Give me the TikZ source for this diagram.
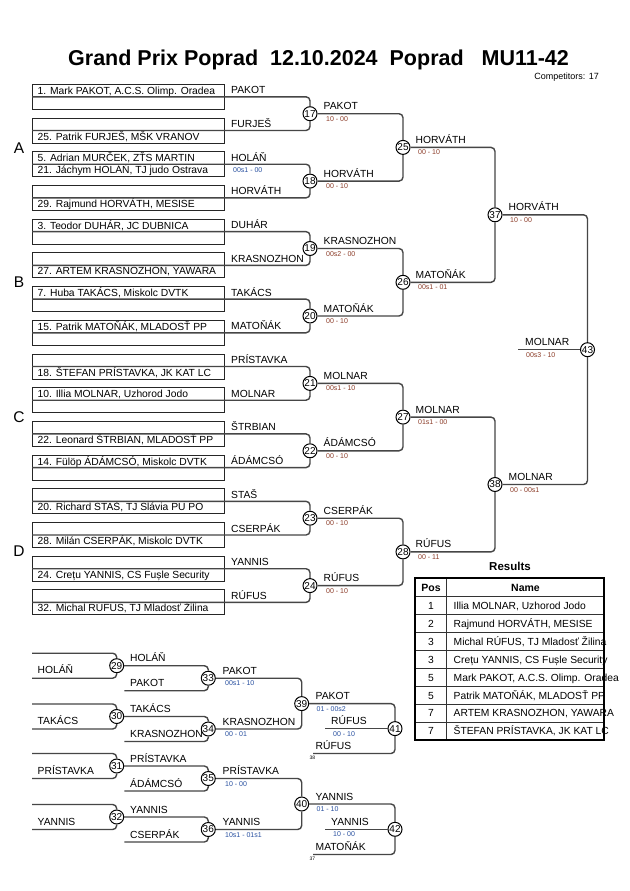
\documentclass[tikz,border=0pt]{standalone}
\usepackage{fontspec}
\setmainfont{Liberation Sans}
\newcommand\myfs[1]{\fontsize{#1bp}{#1bp}\selectfont}
\definecolor{scred}{RGB}{140,60,40}
\definecolor{scblue}{RGB}{40,80,160}
\definecolor{lnc}{RGB}{70,70,70}
\begin{document}
\begin{tikzpicture}[x=1bp,y=-1bp,
  ebox/.style={draw=black!85, line width=0.9bp, minimum width=192bp, minimum height=25bp, inner sep=0pt, outer sep=0pt, anchor=north west},
  conn/.style={draw=lnc, line width=1.4bp, rounded corners=4bp},
  mc/.style={circle, draw=black, line width=1bp, fill=white, minimum size=14bp, inner sep=0pt, font=\myfs{10}},
  txt/.style={anchor=base west, inner sep=0pt, font=\myfs{10.3}},
  scr/.style={anchor=base west, inner sep=0pt, font=\myfs{7}, text=scred},
  scb/.style={anchor=base west, inner sep=0pt, font=\myfs{7}, text=scblue},
  tiny/.style={anchor=base west, inner sep=0pt, font=\myfs{5}},
  grp/.style={anchor=base, inner sep=0pt, font=\myfs{15.5}},
  tline/.style={draw=black!80, line width=1.1bp},
  tcell/.style={inner sep=0pt, font=\myfs{10.3}},
]
\useasboundingbox[fill=white] (0,0) rectangle (630,891);

% title
\node[anchor=base west, inner sep=0pt, font=\myfs{21.5}\bfseries] (title) at (68,65) {Grand Prix Poprad\ \ 12.10.2024\ \ Poprad\ \ \ MU11-42};
\node[anchor=base east, inner sep=0pt, font=\myfs{9}] (comp) at (599,79) {Competitors: 17};

% group letters
\node[grp] (gA) at (19,153.4) {A};
\node[grp] (gB) at (19,287.8) {B};
\node[grp] (gC) at (19,422.2) {C};
\node[grp] (gD) at (19,556.6) {D};

% circles (main)
\node[mc] (m17) at (310,113.7) {17};
\node[mc] (m18) at (310,181.1) {18};
\node[mc] (m19) at (310,248.5) {19};
\node[mc] (m20) at (310,316.0) {20};
\node[mc] (m21) at (310,383.4) {21};
\node[mc] (m22) at (310,450.8) {22};
\node[mc] (m23) at (310,518.2) {23};
\node[mc] (m24) at (310,585.6) {24};
\node[mc] (m25) at (403,147.4) {25};
\node[mc] (m26) at (403,282.3) {26};
\node[mc] (m27) at (403,417.1) {27};
\node[mc] (m28) at (403,551.9) {28};
\node[mc] (m37) at (495,214.8) {37};
\node[mc] (m38) at (495,484.5) {38};
\node[mc] (m43) at (587.5,349.7) {43};

% entry boxes
\node[ebox] (e1) at (32,84.3) {};
\node[ebox] (e2) at (32,118.0) {};
\node[ebox] (e3) at (32,151.7) {};
\node[ebox] (e4) at (32,185.4) {};
\node[ebox] (e5) at (32,219.1) {};
\node[ebox] (e6) at (32,252.9) {};
\node[ebox] (e7) at (32,286.6) {};
\node[ebox] (e8) at (32,320.3) {};
\node[ebox] (e9) at (32,354.0) {};
\node[ebox] (e10) at (32,387.7) {};
\node[ebox] (e11) at (32,421.4) {};
\node[ebox] (e12) at (32,455.1) {};
\node[ebox] (e13) at (32,488.8) {};
\node[ebox] (e14) at (32,522.5) {};
\node[ebox] (e15) at (32,556.2) {};
\node[ebox] (e16) at (32,589.9) {};

% entry texts
\node[txt] (t1) at (37.5,94.3) {1. Mark PAKOT, A.C.S. Olimp. Oradea};
\node[txt] (t2) at (37.5,140.0) {25. Patrik FURJEŠ, MŠK VRANOV};
\node[txt] (t3a) at (37.5,161.7) {5. Adrian MURČEK, ZŤS MARTIN};
\node[txt] (t3b) at (37.5,173.7) {21. Jáchym HOLÁŇ, TJ judo Ostrava};
\node[txt] (t4) at (37.5,207.4) {29. Rajmund HORVÁTH, MESISE};
\node[txt] (t5) at (37.5,229.1) {3. Teodor DUHÁR, JC DUBNICA};
\node[txt] (t6) at (37.5,274.9) {27. ARTEM KRASNOZHON, YAWARA};
\node[txt] (t7) at (37.5,296.6) {7. Huba TAKÁCS, Miskolc DVTK};
\node[txt] (t8) at (37.5,330.3) {15. Patrik MATOŇÁK, MLADOSŤ PP};
\node[txt] (t9) at (37.5,376.0) {18. ŠTEFAN PRÍSTAVKA, JK KAT LC};
\node[txt] (t10) at (37.5,397.7) {10. Illia MOLNAR, Uzhorod Jodo};
\node[txt] (t11) at (37.5,443.4) {22. Leonard ŠTRBIAN, MLADOSŤ PP};
\node[txt] (t12) at (37.5,465.1) {14. Fülöp ÁDÁMCSÓ, Miskolc DVTK};
\node[txt] (t13) at (37.5,510.8) {20. Richard STAŠ, TJ Slávia PU PO};
\node[txt] (t14) at (37.5,544.5) {28. Milán CSERPÁK, Miskolc DVTK};
\node[txt] (t15) at (37.5,578.2) {24. Crețu YANNIS, CS Fușle Security};
\node[txt] (t16) at (37.5,611.9) {32. Michal RÚFUS, TJ Mladosť Žilina};

% entry labels
\node[txt] (l1) at (231,93.8) {PAKOT};
\node[txt] (l2) at (231,127.5) {FURJEŠ};
\node[txt] (l3) at (231,161.2) {HOLÁŇ};
\node[scb] (s3) at (233,172.7) {00s1 - 00};
\node[txt] (l4) at (231,194.9) {HORVÁTH};
\node[txt] (l5) at (231,228.6) {DUHÁR};
\node[txt] (l6) at (231,262.4) {KRASNOZHON};
\node[txt] (l7) at (231,296.1) {TAKÁCS};
\node[txt] (l8) at (231,329.8) {MATOŇÁK};
\node[txt] (l9) at (231,363.5) {PRÍSTAVKA};
\node[txt] (l10) at (231,397.2) {MOLNAR};
\node[txt] (l11) at (231,430.9) {ŠTRBIAN};
\node[txt] (l12) at (231,464.6) {ÁDÁMCSÓ};
\node[txt] (l13) at (231,498.3) {STAŠ};
\node[txt] (l14) at (231,532.0) {CSERPÁK};
\node[txt] (l15) at (231,565.7) {YANNIS};
\node[txt] (l16) at (231,599.4) {RÚFUS};

% round 1 connectors
\draw[conn] (e1.west) -| (m17);  \draw[conn] (e2.west) -| (m17);
\draw[conn] (e3.west) -| (m18);  \draw[conn] (e4.west) -| (m18);
\draw[conn] (e5.west) -| (m19);  \draw[conn] (e6.west) -| (m19);
\draw[conn] (e7.west) -| (m20);  \draw[conn] (e8.west) -| (m20);
\draw[conn] (e9.west) -| (m21);  \draw[conn] (e10.west) -| (m21);
\draw[conn] (e11.west) -| (m22); \draw[conn] (e12.west) -| (m22);
\draw[conn] (e13.west) -| (m23); \draw[conn] (e14.west) -| (m23);
\draw[conn] (e15.west) -| (m24); \draw[conn] (e16.west) -| (m24);
% round 2
\draw[conn] (m17) -| (m25); \draw[conn] (m18) -| (m25);
\draw[conn] (m19) -| (m26); \draw[conn] (m20) -| (m26);
\draw[conn] (m21) -| (m27); \draw[conn] (m22) -| (m27);
\draw[conn] (m23) -| (m28); \draw[conn] (m24) -| (m28);
% round 3
\draw[conn] (m25) -| (m37); \draw[conn] (m26) -| (m37);
\draw[conn] (m27) -| (m38); \draw[conn] (m28) -| (m38);
% final
\draw[conn] (m37) -| (m43); \draw[conn] (m38) -| (m43);
\coordinate (fw) at (518.3,349.7);
\draw[conn] (fw) -- (m43);

% winner labels round 1
\node[txt] (w17) at (323.5,109.7) {PAKOT};      \node[scr] (s17) at (326,121.2) {10 - 00};
\node[txt] (w18) at (323.5,177.1) {HORVÁTH};    \node[scr] (s18) at (326,188.6) {00 - 10};
\node[txt] (w19) at (323.5,244.5) {KRASNOZHON}; \node[scr] (s19) at (326,256.0) {00s2 - 00};
\node[txt] (w20) at (323.5,312.0) {MATOŇÁK};    \node[scr] (s20) at (326,323.5) {00 - 10};
\node[txt] (w21) at (323.5,379.4) {MOLNAR};     \node[scr] (s21) at (326,390.9) {00s1 - 10};
\node[txt] (w22) at (323.5,446.8) {ÁDÁMCSÓ};    \node[scr] (s22) at (326,458.3) {00 - 10};
\node[txt] (w23) at (323.5,514.2) {CSERPÁK};    \node[scr] (s23) at (326,525.7) {00 - 10};
\node[txt] (w24) at (323.5,581.6) {RÚFUS};      \node[scr] (s24) at (326,593.1) {00 - 10};
% round 2
\node[txt] (w25) at (415.5,143.4) {HORVÁTH};    \node[scr] (s25) at (418,154.9) {00 - 10};
\node[txt] (w26) at (415.5,278.3) {MATOŇÁK};    \node[scr] (s26) at (418,289.8) {00s1 - 01};
\node[txt] (w27) at (415.5,413.1) {MOLNAR};     \node[scr] (s27) at (418,424.6) {01s1 - 00};
\node[txt] (w28) at (415.5,547.9) {RÚFUS};      \node[scr] (s28) at (418,559.4) {00 - 11};
% round 3
\node[txt] (w37) at (508.5,210.8) {HORVÁTH};    \node[scr] (s37) at (510,222.3) {10 - 00};
\node[txt] (w38) at (508.5,480.5) {MOLNAR};     \node[scr] (s38) at (510,492.0) {00 - 00s1};
% final
\node[txt] (w43) at (525,345.7) {MOLNAR};       \node[scr] (s43) at (526,357.2) {00s3 - 10};

% ---------------- repechage ----------------
\node[mc] (m29) at (116.7,665.7) {29};
\node[mc] (m30) at (116.7,716.5) {30};
\node[mc] (m31) at (116.7,766.0) {31};
\node[mc] (m32) at (116.7,817.0) {32};
\node[mc] (m33) at (208.3,678.2) {33};
\node[mc] (m34) at (208.3,729.0) {34};
\node[mc] (m35) at (208.3,778.5) {35};
\node[mc] (m36) at (208.3,829.5) {36};
\node[mc] (m39) at (301.7,703.6) {39};
\node[mc] (m40) at (301.7,804.0) {40};
\node[mc] (m41) at (395,728.6) {41};
\node[mc] (m42) at (395,829.3) {42};

\coordinate (a29) at (32,653.2); \coordinate (b29) at (32,678.2);
\coordinate (a30) at (32,704.0); \coordinate (b30) at (32,729.0);
\coordinate (a31) at (32,753.5); \coordinate (b31) at (32,778.5);
\coordinate (a32) at (32,804.5); \coordinate (b32) at (32,829.5);
\coordinate (b33) at (124.3,690.7);
\coordinate (b34) at (124.3,741.5);
\coordinate (b35) at (124.3,791.0);
\coordinate (b36) at (124.3,842.0);
\coordinate (c41) at (313,753.5);
\coordinate (c42) at (313,854.5);
\coordinate (f41) at (325,728.6);
\coordinate (f42) at (325,829.3);

\draw[conn] (a29) -| (m29); \draw[conn] (b29) -| (m29);
\draw[conn] (a30) -| (m30); \draw[conn] (b30) -| (m30);
\draw[conn] (a31) -| (m31); \draw[conn] (b31) -| (m31);
\draw[conn] (a32) -| (m32); \draw[conn] (b32) -| (m32);
\draw[conn] (m29) -| (m33); \draw[conn] (b33) -| (m33);
\draw[conn] (m30) -| (m34); \draw[conn] (b34) -| (m34);
\draw[conn] (m31) -| (m35); \draw[conn] (b35) -| (m35);
\draw[conn] (m32) -| (m36); \draw[conn] (b36) -| (m36);
\draw[conn] (m33) -| (m39); \draw[conn] (m34) -| (m39);
\draw[conn] (m35) -| (m40); \draw[conn] (m36) -| (m40);
\draw[conn] (m39) -| (m41); \draw[conn] (c41) -| (m41);
\draw[conn] (m40) -| (m42); \draw[conn] (c42) -| (m42);
\draw[conn] (f41) -- (m41);
\draw[conn] (f42) -- (m42);

\node[txt] (r29) at (37.5,673.7) {HOLÁŇ};
\node[txt] (r30) at (37.5,724.5) {TAKÁCS};
\node[txt] (r31) at (37.5,774.0) {PRÍSTAVKA};
\node[txt] (r32) at (37.5,825.0) {YANNIS};
\node[txt] (r33a) at (130,661.7) {HOLÁŇ};
\node[txt] (r33b) at (130,686.7) {PAKOT};
\node[txt] (r34a) at (130,712.5) {TAKÁCS};
\node[txt] (r34b) at (130,737.5) {KRASNOZHON};
\node[txt] (r35a) at (130,762.0) {PRÍSTAVKA};
\node[txt] (r35b) at (130,787.0) {ÁDÁMCSÓ};
\node[txt] (r36a) at (130,813.0) {YANNIS};
\node[txt] (r36b) at (130,838.0) {CSERPÁK};
\node[txt] (r39a) at (222.5,674.2) {PAKOT};       \node[scb] (q33) at (225,685.7) {00s1 - 10};
\node[txt] (r39b) at (222.5,725.0) {KRASNOZHON};  \node[scb] (q34) at (225,736.5) {00 - 01};
\node[txt] (r40a) at (222.5,774.5) {PRÍSTAVKA};   \node[scb] (q35) at (225,786.0) {10 - 00};
\node[txt] (r40b) at (222.5,825.5) {YANNIS};      \node[scb] (q36) at (225,837.0) {10s1 - 01s1};
\node[txt] (r41a) at (315.5,699.6) {PAKOT};       \node[scb] (q39) at (316.5,711.1) {01 - 00s2};
\node[txt] (r41b) at (315.5,749.5) {RÚFUS};       \node[tiny] (n38) at (309.5,759) {38};
\node[txt] (r41w) at (331,724.6) {RÚFUS};         \node[scb] (q41) at (333,736.1) {00 - 10};
\node[txt] (r42a) at (315.5,800.0) {YANNIS};      \node[scb] (q40) at (316.5,811.5) {01 - 10};
\node[txt] (r42b) at (315.5,850.5) {MATOŇÁK};     \node[tiny] (n37) at (309.5,860) {37};
\node[txt] (r42w) at (331,825.3) {YANNIS};        \node[scb] (q42) at (333,836.8) {10 - 00};

% ---------------- results table ----------------
\node[anchor=base, inner sep=0pt, font=\myfs{11.5}\bfseries] (restitle) at (510,570) {Results};
\node[anchor=base, inner sep=0pt, font=\myfs{10.5}\bfseries] (hpos) at (431,591.5) {Pos};
\node[anchor=base, inner sep=0pt, font=\myfs{10.5}\bfseries] (hname) at (525.5,591.5) {Name};
\foreach \i/\p/\n in {1/1/{Illia MOLNAR, Uzhorod Jodo},
                       2/2/{Rajmund HORVÁTH, MESISE},
                       3/3/{Michal RÚFUS, TJ Mladosť Žilina},
                       4/3/{Crețu YANNIS, CS Fușle Security},
                       5/5/{Mark PAKOT, A.C.S. Olimp. Oradea},
                       6/5/{Patrik MATOŇÁK, MLADOSŤ PP},
                       7/7/{ARTEM KRASNOZHON, YAWARA},
                       8/7/{ŠTEFAN PRÍSTAVKA, JK KAT LC}} {
  \node[tcell, anchor=base] (rp\i) at (431,{596.7+17.92*(\i-1)+12.7}) {\p};
  \node[tcell, anchor=base west] (rn\i) at (453.5,{596.7+17.92*(\i-1)+12.7}) {\n};
}
\foreach \k in {0,...,7} {
  \draw[tline] (415,{596.7+17.92*\k}) -- (604,{596.7+17.92*\k});
}
\draw[tline] (446.7,578.3) -- (446.7,740);
\draw[draw=black, line width=2bp] (415,578.3) rectangle (604,740);
\end{tikzpicture}
\end{document}
